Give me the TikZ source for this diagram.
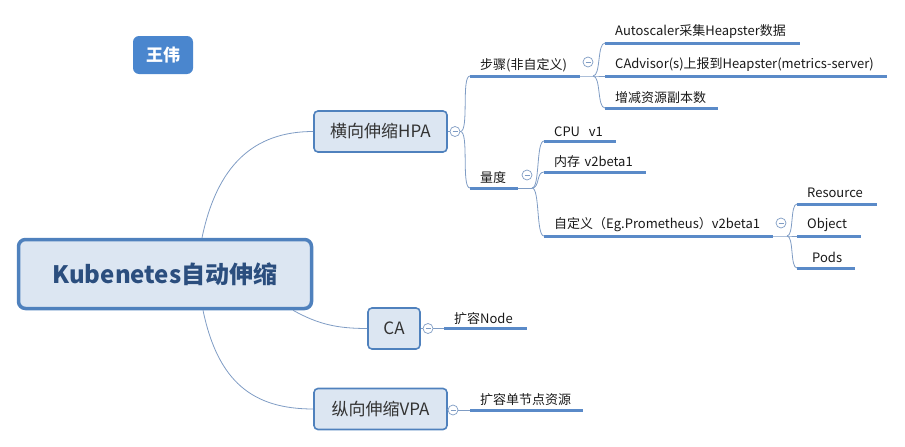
\documentclass[tikz,border=0pt]{standalone}
\usepackage{fontspec}
\setmainfont{Noto Sans CJK SC}
\usetikzlibrary{positioning}
\definecolor{boxfill}{HTML}{DCE6F2}
\definecolor{boxline}{HTML}{4F81BD}
\definecolor{linkc}{HTML}{7F9CC4}
\definecolor{ulc}{HTML}{5A8AC8}
\definecolor{namec}{HTML}{4A86CE}
\definecolor{maintext}{HTML}{2B4E7E}
\tikzset{
    topic/.style={draw=boxline, line width=1.6pt, fill=boxfill, rounded corners=4pt,
        font=\fontsize{17}{20}\selectfont, text=black!80, inner sep=0pt, minimum height=41pt},
    leaf/.style={anchor=south west, text width=#1, align=left, inner xsep=10pt, inner ysep=4pt,
        font=\fontsize{13}{15}\selectfont, text=black!90,
        execute at begin node={\leavevmode\hbox\bgroup}, execute at end node={\egroup}},
    uline/.style={draw=ulc, line width=3pt},
    link/.style={draw=linkc, line width=0.8pt},
    fold/.style={circle, draw=linkc, fill=white, line width=0.7pt, minimum size=10pt, inner sep=0pt,
        path picture={\draw[linkc, line width=0.7pt]
            ([xshift=-2.5pt]path picture bounding box.center) -- ([xshift=2.5pt]path picture bounding box.center);}}
}
\begin{document}
\begin{tikzpicture}[x=1pt, y=-1pt]
    \useasboundingbox (0,0) rectangle (905,447);

    % central topic and name tag
    \node[draw=boxline, line width=3.5pt, fill=boxfill, rounded corners=7pt, minimum width=293pt,
        minimum height=69pt, font=\fontsize{24}{28}\selectfont\bfseries, text=maintext] (main) at (165,274) {Kubenetes自动伸缩};
    \node[fill=namec, rounded corners=6pt, minimum width=60pt, minimum height=38pt,
        font=\fontsize{17}{20}\selectfont\bfseries, text=white] (name) at (163,55) {王伟};

    % main branches
    \node[topic, minimum width=133pt] (hpa) at (380.5,131.5) {横向伸缩HPA};
    \node[topic, minimum width=52pt] (ca) at (394,328.5) {CA};
    \node[topic, minimum width=133pt] (vpa) at (380.5,409) {纵向伸缩VPA};

    \draw[link] ([xshift=37pt]main.north) .. controls +(15,-72) and +(-60,0) .. (hpa.west);
    \draw[link] ([xshift=128pt]main.south) .. controls +(25,14) and +(-30,0) .. (ca.west);
    \draw[link] ([xshift=38pt]main.south) .. controls +(15,72) and +(-60,0) .. (vpa.west);

    % HPA
    \node[fold] (hpaF) at (455,131.5) {};
    \node[leaf=90pt] (steps) at (470,76) {步骤(非自定义)};
    \node[leaf=28pt] (measure) at (470,188) {量度};
    \draw[link] (hpa.east) -- (hpaF.west);
    \draw[link] (hpaF.east) .. controls +(9,0) and +(-9,0) .. (steps.south west);
    \draw[link] (hpaF.east) .. controls +(9,0) and +(-9,0) .. (measure.south west);

    % steps
    \node[fold] (stepsF) at (588,62) {};
    \coordinate (stepsJ) at (593,76);
    \node[leaf=175pt] (scaler) at (605,43) {Autoscaler采集Heapster数据};
    \node[leaf=262pt] (cadvisor) at (605,76) {CAdvisor(s)上报到Heapster(metrics-server)};
    \node[leaf=93pt] (replicas) at (605,108) {增减资源副本数};
    \draw[link] (steps.south east) -- (stepsJ) -- (cadvisor.south west);
    \draw[link] (stepsJ) .. controls +(8,0) and +(-8,0) .. (scaler.south west);
    \draw[link] (stepsJ) .. controls +(8,0) and +(-8,0) .. (replicas.south west);

    % measure
    \node[fold] (measureF) at (527,175) {};
    \coordinate (measureJ) at (532,188);
    \node[leaf=52pt] (cpu) at (544,141) {CPU~~v1};
    \node[leaf=82pt] (mem) at (544,172) {内存 v2beta1};
    \node[leaf=209pt] (custom) at (544,236) {自定义（Eg.Prometheus）v2beta1};
    \draw[link] (measure.south east) -- (measureJ);
    \foreach \n in {cpu,mem,custom}
        \draw[link] (measureJ) .. controls +(8,0) and +(-8,0) .. (\n.south west);

    % custom metrics
    \node[fold] (customF) at (781,223) {};
    \coordinate (customJ) at (787,236);
    \node[leaf=60pt, inner ysep=6pt] (resource) at (797,204) {Resource};
    \node[leaf=44pt] (object) at (797,236) {Object};
    \node[leaf=28pt, inner xsep=15pt, inner ysep=5pt] (pods) at (797,268) {Pods};
    \draw[link] (custom.south east) -- (customJ) -- (object.south west);
    \draw[link] (customJ) .. controls +(7,0) and +(-7,0) .. (resource.south west);
    \draw[link] (customJ) .. controls +(7,0) and +(-7,0) .. (pods.south west);

    % CA and VPA
    \node[fold] (caF) at (428,328.5) {};
    \node[leaf=63pt] (expand) at (444,328.5) {扩容Node};
    \draw[link] (ca.east) -- (caF.west);
    \draw[link] (caF.east) -- (expand.south west);

    \node[fold] (vpaF) at (453,410) {};
    \node[leaf=93pt] (noderes) at (470,410) {扩容单节点资源};
    \draw[link] (vpa.east) -- (vpaF.west);
    \draw[link] (vpaF.east) -- (noderes.south west);

    % underlines
    \foreach \n in {steps,measure,scaler,cadvisor,replicas,cpu,mem,custom,resource,object,pods,expand,noderes}
        \draw[uline] (\n.south west) -- (\n.south east);
\end{tikzpicture}
\end{document}
